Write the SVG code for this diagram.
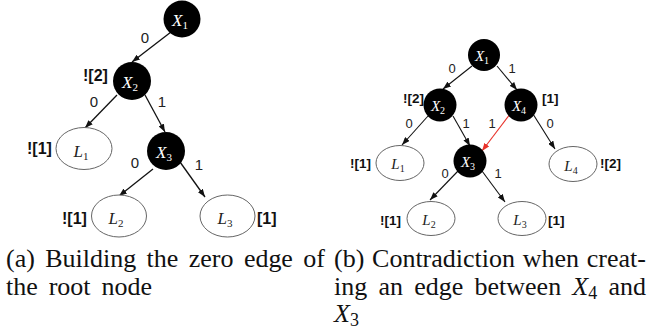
<svg xmlns="http://www.w3.org/2000/svg" width="651" height="332" viewBox="0 0 651 332">
<style>
.inner { fill:#000; }
.leaf { fill:#fff; stroke:#666; stroke-width:1; }
.xl { font-family:"Liberation Serif","DejaVu Serif",serif; font-style:italic; fill:#fff; text-anchor:middle; }
.ll { font-family:"Liberation Serif","DejaVu Serif",serif; font-style:italic; fill:#222; text-anchor:middle; }
.xl tspan, .ll tspan { font-style:normal; }
.el { font-family:"Liberation Sans","DejaVu Sans",sans-serif; fill:#222; text-anchor:middle; }
.bl { font-family:"Liberation Sans","DejaVu Sans",sans-serif; font-weight:bold; fill:#111; }
.edge { stroke:#111; fill:none; marker-end:url(#ah); }
.red { stroke:#e8322a; fill:none; marker-end:url(#ahr); }
.cap { font-family:"Liberation Serif","DejaVu Serif",serif; font-size:26px; fill:#111; }
.pa .el { font-size:15px; }
.pa .bl { font-size:16px; }
.pb .el { font-size:13px; }
.pb .bl { font-size:13.5px; }
</style>
<defs>
<marker id="ah" markerWidth="8" markerHeight="6" refX="8" refY="3" orient="auto" markerUnits="userSpaceOnUse"><path d="M0,0 L8,3 L0,6 z" fill="#111"/></marker>
<marker id="ahr" markerWidth="8" markerHeight="6" refX="8" refY="3" orient="auto" markerUnits="userSpaceOnUse"><path d="M0,0 L8,3 L0,6 z" fill="#e8322a"/></marker>
</defs>
<rect width="651" height="332" fill="#fff"/>

<!-- Panel (a) -->
<g class="pa">
<g id="a-edges" stroke-width="1.3">
<line class="edge" x1="171" y1="32" x2="132" y2="62"/>
<line class="edge" x1="117" y1="95" x2="85" y2="128"/>
<line class="edge" x1="145" y1="95" x2="165" y2="132"/>
<line class="edge" x1="153" y1="169" x2="119" y2="196"/>
<line class="edge" x1="180" y1="162" x2="205" y2="197"/>
<text class="el" x="145" y="43">0</text>
<text class="el" x="94" y="107">0</text>
<text class="el" x="162" y="107">1</text>
<text class="el" x="135" y="168">0</text>
<text class="el" x="199" y="170">1</text>
</g>
<g id="a-X1"><circle class="inner" cx="182" cy="19" r="18.5"/><text class="xl" x="180" y="26" font-size="17">X<tspan font-size="11" dy="3">1</tspan></text></g>
<g id="a-X2"><circle class="inner" cx="132" cy="81" r="19"/><text class="xl" x="130" y="88" font-size="17">X<tspan font-size="11" dy="3">2</tspan></text><text class="bl" x="83" y="81">![2]</text></g>
<g id="a-X3"><circle class="inner" cx="166" cy="151" r="19"/><text class="xl" x="164" y="158" font-size="17">X<tspan font-size="11" dy="3">3</tspan></text></g>
<g id="a-L1"><ellipse class="leaf" cx="84" cy="148.5" rx="28" ry="21"/><text class="ll" x="81" y="157" font-size="17">L<tspan font-size="11" dy="3">1</tspan></text><text class="bl" x="27" y="154">![1]</text></g>
<g id="a-L2"><ellipse class="leaf" cx="119" cy="216" rx="27.5" ry="21"/><text class="ll" x="116" y="224" font-size="17">L<tspan font-size="11" dy="3">2</tspan></text><text class="bl" x="62" y="224">![1]</text></g>
<g id="a-L3"><ellipse class="leaf" cx="227.5" cy="216" rx="27.5" ry="21"/><text class="ll" x="225" y="224" font-size="17">L<tspan font-size="11" dy="3">3</tspan></text><text class="bl" x="257" y="224">[1]</text></g>
</g>

<!-- Panel (b) -->
<g class="pb">
<g id="b-edges" stroke-width="1.1">
<line class="edge" x1="472" y1="66" x2="443" y2="89"/>
<line class="edge" x1="497" y1="66" x2="517" y2="90"/>
<line class="edge" x1="428" y1="116" x2="402" y2="145"/>
<line class="edge" x1="453" y1="116" x2="470" y2="146"/>
<line class="red" x1="510" y1="114" x2="482" y2="151"/>
<line class="edge" x1="533" y1="114" x2="555" y2="149"/>
<line class="edge" x1="458" y1="171" x2="430" y2="200"/>
<line class="edge" x1="482" y1="171" x2="505" y2="202"/>
<text class="el" x="452" y="73">0</text>
<text class="el" x="512" y="73">1</text>
<text class="el" x="409" y="128">0</text>
<text class="el" x="466" y="128">1</text>
<text class="el" x="492" y="128">1</text>
<text class="el" x="550" y="128">0</text>
<text class="el" x="445" y="178">0</text>
<text class="el" x="498" y="178">1</text>
</g>
<g id="b-X1"><circle class="inner" cx="484" cy="55" r="16"/><text class="xl" x="482" y="61" font-size="15">X<tspan font-size="10" dy="3">1</tspan></text></g>
<g id="b-X2"><circle class="inner" cx="440" cy="105" r="16.5"/><text class="xl" x="438" y="111" font-size="15">X<tspan font-size="10" dy="3">2</tspan></text><text class="bl" x="403" y="103">![2]</text></g>
<g id="b-X4"><circle class="inner" cx="521" cy="105" r="16.5"/><text class="xl" x="519" y="111" font-size="15">X<tspan font-size="10" dy="3">4</tspan></text><text class="bl" x="542" y="103">[1]</text></g>
<g id="b-X3"><circle class="inner" cx="470" cy="161" r="16.5"/><text class="xl" x="468" y="167" font-size="15">X<tspan font-size="10" dy="3">3</tspan></text></g>
<g id="b-L1"><ellipse class="leaf" cx="400" cy="163" rx="24" ry="17.5"/><text class="ll" x="398" y="169" font-size="15">L<tspan font-size="10" dy="3">1</tspan></text><text class="bl" x="350" y="168">![1]</text></g>
<g id="b-L4"><ellipse class="leaf" cx="573" cy="164" rx="24" ry="17.5"/><text class="ll" x="571" y="171" font-size="15">L<tspan font-size="10" dy="3">4</tspan></text><text class="bl" x="600" y="168">![2]</text></g>
<g id="b-L2"><ellipse class="leaf" cx="431" cy="218.5" rx="24" ry="17"/><text class="ll" x="429" y="225" font-size="15">L<tspan font-size="10" dy="3">2</tspan></text><text class="bl" x="380" y="225">![1]</text></g>
<g id="b-L3"><ellipse class="leaf" cx="522" cy="218.5" rx="24" ry="17"/><text class="ll" x="520" y="225" font-size="15">L<tspan font-size="10" dy="3">3</tspan></text><text class="bl" x="548" y="225">[1]</text></g>
</g>

<!-- Captions -->
<g id="caption-a" class="cap">
<text x="6" y="267" word-spacing="4" textLength="319" lengthAdjust="spacing">(a) Building the zero edge of</text>
<text x="6" y="295" word-spacing="4.4" textLength="146" lengthAdjust="spacing">the root node</text>
</g>
<g id="caption-b" class="cap">
<text x="334" y="267" word-spacing="1.2" textLength="312" lengthAdjust="spacing">(b) Contradiction when creat-</text>
<text x="334" y="295" word-spacing="4.7" textLength="312" lengthAdjust="spacing">ing an edge between <tspan font-style="italic">X</tspan><tspan font-size="18" dy="4">4</tspan><tspan dy="-4"> and</tspan></text>
<text x="334" y="322"><tspan font-style="italic">X</tspan><tspan font-size="18" dy="4">3</tspan></text>
</g>
</svg>
